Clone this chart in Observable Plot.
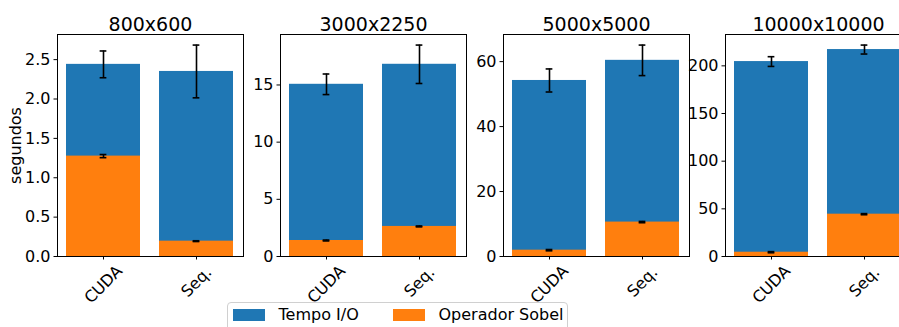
<!DOCTYPE html>
<html>
<head>
<meta charset="utf-8">
<script src="https://cdn.jsdelivr.net/npm/d3@7"></script>
<script src="https://cdn.jsdelivr.net/npm/@observablehq/plot@0.6"></script>
<style>
  html, body { margin: 0; padding: 0; background: #fff; }
  #chart { position: relative; width: 899px; height: 327px; overflow: hidden; font-family: "DejaVu Sans", sans-serif; background: #fff; }
  .panel { position: absolute; top: 0; }
  #legend { position: absolute; left: 227px; top: 302px; width: 341px; height: 40px; border: 1px solid #d0d0d0; border-radius: 4px; background: #fff; z-index: 5; box-sizing: border-box; }
  #legend .sw { position: absolute; top: 6px; width: 32px; height: 11.5px; }
  #legend .lb { position: absolute; top: 4.2px; font-size: 16px; line-height: 16px; color: #000; white-space: nowrap; }
</style>
</head>
<body>
<div id="chart"></div>
<script>
// ---- data (seconds) ----
const sizes = ["800x600", "3000x2250", "5000x5000", "10000x10000"];
const methods = ["CUDA", "Seq."];
const seriesNames = ["Tempo I/O", "Operador Sobel"];
const seriesColors = ["#1f77b4", "#ff7f0e"];
// total time (Tempo I/O bar top) and its error
const totalCUDA = [2.44, 15.06, 54.2, 204.5];
const totalSeq = [2.35, 16.81, 60.4, 217.1];
const totalErrCUDA = [0.17, 0.90, 3.55, 5.1];
const totalErrSeq = [0.335, 1.68, 4.7, 4.7];
// Sobel operator time and its error
const sobelCUDA = [1.275, 1.40, 1.95, 4.5];
const sobelSeq = [0.195, 2.63, 10.6, 44.4];
const sobelErrCUDA = [0.02, 0.04, 0.2, 0.6];
const sobelErrSeq = [0.005, 0.04, 0.2, 0.6];
// y tick labels per panel
const yTicks = [
  [0, 0.5, 1.0, 1.5, 2.0, 2.5],
  [0, 5, 10, 15],
  [0, 20, 40, 60],
  [0, 50, 100, 150, 200]
];
const yTickFormats = [".1f", "d", "d", "d"];
const yLabel = "segundos";

// ---- layout ----
const frameLeft = [57, 280, 503, 725];
const frameWidth = 186;
const chart = document.getElementById("chart");

sizes.forEach((size, i) => {
  const rows = methods.map((m, j) => ({
    method: m,
    total: j ? totalSeq[i] : totalCUDA[i],
    totalErr: j ? totalErrSeq[i] : totalErrCUDA[i],
    sobel: j ? sobelSeq[i] : sobelCUDA[i],
    sobelErr: j ? sobelErrSeq[i] : sobelErrCUDA[i]
  }));
  const ymax = d3.max(rows, d => d.total + d.totalErr) * 1.05;
  const ml = i === 0 ? 57 : 40;
  const mr = 6;
  const width = ml + frameWidth + mr;
  const pi = 0.2, po = 0.095;
  const step = frameWidth / (methods.length - pi + 2 * po);
  const bw = step * (1 - pi);
  const capInset = (bw - 7.5) / 2;
  const errStyle = {stroke: "#000", strokeWidth: 1.6};

  const marks = [
    Plot.barY(rows, {x: "method", y: "total", fill: seriesColors[0]}),
    Plot.barY(rows, {x: "method", y: "sobel", fill: seriesColors[1]}),
    // total error bars
    Plot.ruleX(rows, {x: "method", y1: d => d.total - d.totalErr, y2: d => d.total + d.totalErr, ...errStyle}),
    Plot.tickY(rows, {x: "method", y: d => d.total - d.totalErr, insetLeft: capInset, insetRight: capInset, ...errStyle}),
    Plot.tickY(rows, {x: "method", y: d => d.total + d.totalErr, insetLeft: capInset, insetRight: capInset, ...errStyle}),
    // sobel error bars
    Plot.ruleX(rows, {x: "method", y1: d => d.sobel - d.sobelErr, y2: d => d.sobel + d.sobelErr, ...errStyle}),
    Plot.tickY(rows, {x: "method", y: d => d.sobel - d.sobelErr, insetLeft: capInset, insetRight: capInset, ...errStyle}),
    Plot.tickY(rows, {x: "method", y: d => d.sobel + d.sobelErr, insetLeft: capInset, insetRight: capInset, ...errStyle}),
    Plot.frame({stroke: "#000", strokeWidth: 1}),
    Plot.axisY({ticks: yTicks[i], tickFormat: d3.format(yTickFormats[i]), tickSize: 3.5, tickPadding: 3.5, label: null, fontSize: 16}),
    Plot.axisX({tickSize: 3.5, tickFormat: () => "", label: null}),
    Plot.text([size], {frameAnchor: "top", text: d => d, lineAnchor: "bottom", dy: -4, fontSize: 19}),
    ...methods.map((m, j) => Plot.text([m], {
      x: d => d, text: d => d, frameAnchor: "bottom", rotate: -45,
      textAnchor: "middle", lineAnchor: "middle", dy: j ? 25.5 : 28, fontSize: 16
    }))
  ];
  if (i === 0) {
    marks.push(Plot.text([yLabel], {text: d => d, frameAnchor: "left", rotate: -90, dx: -42, lineAnchor: "middle", textAnchor: "middle", fontSize: 16}));
  }

  const plot = Plot.plot({
    width, height: 327,
    marginLeft: ml, marginRight: mr, marginTop: 34, marginBottom: 71,
    x: {domain: methods, paddingInner: pi, paddingOuter: po},
    y: {domain: [0, ymax]},
    style: {background: "transparent", fontFamily: "DejaVu Sans", fontSize: "16px", color: "#000", overflow: "visible", maxWidth: "none"},
    marks
  });
  const div = document.createElement("div");
  div.className = "panel";
  div.style.left = (frameLeft[i] - ml) + "px";
  div.style.width = width + "px";
  div.appendChild(plot);
  chart.appendChild(div);
});

// ---- legend ----
const legend = document.createElement("div");
legend.id = "legend";
const legendPos = [[5, 50.5], [164.5, 210.5]];
seriesNames.forEach((name, k) => {
  const sw = document.createElement("div");
  sw.className = "sw";
  sw.style.left = legendPos[k][0] + "px";
  sw.style.background = seriesColors[k];
  const lb = document.createElement("div");
  lb.className = "lb";
  lb.style.left = legendPos[k][1] + "px";
  lb.textContent = name;
  legend.appendChild(sw);
  legend.appendChild(lb);
});
chart.appendChild(legend);
</script>
</body>
</html>
